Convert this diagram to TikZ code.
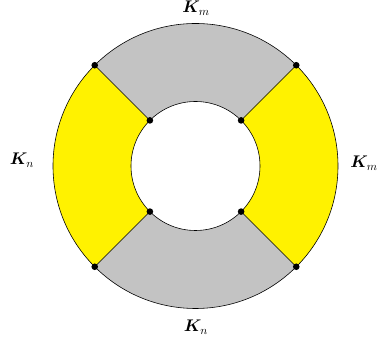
\documentclass[tikz,border=0pt]{standalone}
\usepackage{amsmath,amssymb,bm}
\usepackage{tikz}
\usetikzlibrary{calc}
\definecolor{ringgray}{RGB}{195,195,195}
\definecolor{ringyellow}{RGB}{255,242,0}

\begin{document}
\begin{tikzpicture}[x=0.3mm,y=-0.3mm,line width=0.5pt,font=\Large]
  \def\ro{142.5}
  \def\ri{64.5}
  \useasboundingbox (0,0) rectangle (377,347);
  \coordinate (c) at (195.5,166);
  % four pieces of the ring
  \foreach \a/\col in {45/ringgray,135/ringyellow,225/ringgray,315/ringyellow}
    \fill[\col] ($(c)+(\a:\ro)$) arc[start angle=\a,end angle=\a+90,radius=\ro]
      -- ($(c)+(\a+90:\ri)$) arc[start angle=\a+90,end angle=\a,radius=\ri] -- cycle;
  \draw (c) circle[radius=\ro];
  \draw (c) circle[radius=\ri];
  \foreach \a in {45,135,225,315} {
    \coordinate (o\a) at ($(c)+(\a:\ro)$);
    \coordinate (i\a) at ($(c)+(\a:\ri)$);
    \draw (o\a) -- (i\a);
    \fill (o\a) circle (3.3);
    \fill (i\a) circle (3.3);
  }
  \node (top) at (196,8) {$\bm{K}_m$};
  \node (left) at (22,160) {$\bm{K}_n$};
  \node (right) at (364,163) {$\bm{K}_m$};
  \node (bottom) at (196,327) {$\bm{K}_n$};
\end{tikzpicture}
\end{document}
